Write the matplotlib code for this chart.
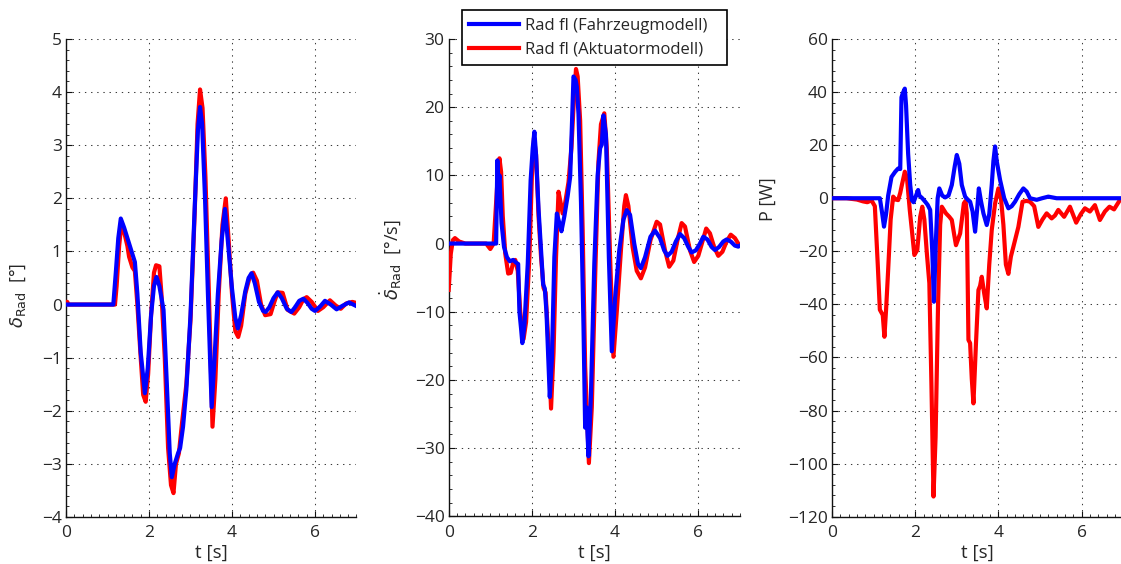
import matplotlib
matplotlib.use("Agg")
import matplotlib.pyplot as plt
from matplotlib.ticker import MultipleLocator
from matplotlib.lines import Line2D

# ---------------- steering angle delta_Rad [deg] ----------------
t_delta_fzg = [0, 1.14, 1.20, 1.26, 1.32, 1.40, 1.50, 1.60, 1.66, 1.72, 1.80, 1.90, 1.97,
               2.05, 2.12, 2.18, 2.25, 2.35, 2.43, 2.50, 2.55, 2.62, 2.70, 2.75, 2.82, 2.90,
               3.00, 3.10, 3.18, 3.23, 3.28, 3.35, 3.42, 3.51, 3.58, 3.66, 3.75, 3.83, 3.90,
               4.00, 4.08, 4.14, 4.22, 4.32, 4.40, 4.47, 4.55, 4.65, 4.75, 4.81, 4.90, 5.00,
               5.10, 5.20, 5.32, 5.43, 5.52, 5.62, 5.72, 5.82, 5.92, 6.00, 6.12, 6.24, 6.38,
               6.52, 6.67, 6.82, 7.0]
delta_fzg = [0, 0, 0.6, 1.25, 1.62, 1.45, 1.2, 0.95, 0.8, 0.2, -0.9, -1.67, -1.2,
             -0.2, 0.35, 0.52, 0.35, -0.1, -1.5, -2.8, -3.25, -3.0, -2.8, -2.7, -2.3, -1.6,
             -0.2, 1.8, 3.3, 3.72, 3.4, 2.0, 0.2, -1.93, -1.0, 0.2, 1.2, 1.8, 1.2,
             0.3, -0.25, -0.45, -0.2, 0.25, 0.5, 0.59, 0.4, 0.05, -0.12, -0.14, -0.05, 0.12,
             0.23, 0.12, -0.08, -0.14, -0.05, 0.07, 0.11, 0.03, -0.08, -0.12, -0.04, 0.07, 0.0,
             -0.09, -0.02, 0.04, -0.03]

t_delta_akt = [0, 0.03, 0.06, 1.18, 1.22, 1.28, 1.34, 1.42, 1.48, 1.52, 1.60, 1.66, 1.72,
               1.80, 1.86, 1.92, 1.98, 2.05, 2.12, 2.17, 2.25, 2.30, 2.38, 2.46, 2.53, 2.59,
               2.65, 2.72, 2.80, 2.90, 3.00, 3.10, 3.17, 3.23, 3.29, 3.36, 3.44, 3.53, 3.60,
               3.68, 3.77, 3.85, 3.92, 4.00, 4.08, 4.15, 4.22, 4.32, 4.42, 4.51, 4.60, 4.70,
               4.80, 4.93, 5.02, 5.10, 5.22, 5.34, 5.50, 5.62, 5.72, 5.80, 5.92, 6.07, 6.20,
               6.36, 6.50, 6.62, 6.75, 6.90, 7.0]
delta_akt = [0.05, 0.05, 0, 0, 0.35, 1.1, 1.55, 1.3, 1.1, 0.9, 0.7, 0.63, 0.0,
             -1.0, -1.7, -1.83, -1.3, -0.2, 0.6, 0.74, 0.72, 0.2, -1.0, -2.7, -3.4, -3.55,
             -3.0, -2.8, -2.2, -1.5, -0.3, 1.7, 3.4, 4.05, 3.7, 2.4, 0.3, -2.3, -1.4,
             0.2, 1.5, 2.0, 1.2, 0.2, -0.5, -0.61, -0.4, 0.2, 0.5, 0.6, 0.45, 0.0,
             -0.2, -0.18, 0.05, 0.23, 0.22, -0.1, -0.17, -0.05, 0.1, 0.14, 0.05, -0.12, -0.05,
             0.08, -0.02, -0.08, 0.02, 0.05, 0.03]

# ---------------- steering rate d(delta_Rad)/dt [deg/s] ----------------
t_rate_fzg = [0, 1.14, 1.17, 1.19, 1.22, 1.27, 1.33, 1.40, 1.47, 1.55, 1.62, 1.67, 1.70,
              1.74, 1.77, 1.82, 1.90, 1.97, 2.02, 2.06, 2.10, 2.16, 2.22, 2.27, 2.31, 2.35,
              2.43, 2.48, 2.54, 2.60, 2.66, 2.71, 2.78, 2.86, 2.92, 2.96, 3.00, 3.05, 3.08,
              3.12, 3.18, 3.24, 3.28, 3.31, 3.36, 3.42, 3.50, 3.58, 3.64, 3.68, 3.72, 3.78,
              3.85, 3.92, 4.00, 4.10, 4.20, 4.28, 4.36, 4.46, 4.55, 4.62, 4.72, 4.85, 4.96,
              5.08, 5.18, 5.26, 5.36, 5.46, 5.56, 5.66, 5.76, 5.84, 5.94, 6.04, 6.12, 6.22,
              6.32, 6.40, 6.50, 6.60, 6.68, 6.78, 6.88, 6.96, 7.0]
rate_fzg = [0, 0, 12.2, 8.0, 10.0, 3.0, -0.5, -2.0, -2.6, -2.4, -2.8, -3.0, -10,
            -12.5, -14.6, -12.0, -3.0, 9.3, 14.0, 16.4, 13.0, 5.0, -1.0, -6.0, -6.6, -10,
            -22.5, -17, -2.0, 4.4, 3.0, 1.8, 4.0, 7.0, 9.8, 17.0, 24.5, 24.0, 23.0,
            19.0, 6.0, -12.0, -27, -24, -31.2, -22, -3.0, 10.0, 14.0, 14.5, 18.8, 16,
            -2.0, -15.8, -8.0, -1.0, 3.5, 4.9, 4.2, 0.0, -3.0, -3.6, -2.0, 1.0, 1.9,
            0.8, -1.0, -1.8, -1.2, 0.3, 1.4, 0.8, -0.5, -1.3, -1.0, 0.0, 1.0, 0.6,
            -0.5, -0.95, -0.5, 0.3, 0.6, 0.3, -0.3, -0.45, -0.3]

t_rate_akt = [0, 0.05, 0.10, 0.15, 0.25, 0.40, 0.90, 1.00, 1.08, 1.14, 1.19, 1.22, 1.26,
              1.30, 1.36, 1.43, 1.49, 1.55, 1.60, 1.66, 1.72, 1.80, 1.86, 1.94, 2.00, 2.05,
              2.10, 2.16, 2.22, 2.28, 2.33, 2.40, 2.46, 2.52, 2.58, 2.64, 2.69, 2.74, 2.80,
              2.88, 2.95, 3.00, 3.06, 3.10, 3.16, 3.22, 3.28, 3.37, 3.44, 3.52, 3.60, 3.66,
              3.74, 3.80, 3.88, 3.96, 4.04, 4.14, 4.22, 4.26, 4.32, 4.42, 4.52, 4.62, 4.72,
              4.85, 5.00, 5.08, 5.20, 5.30, 5.40, 5.50, 5.60, 5.68, 5.80, 5.90, 6.00, 6.10,
              6.19, 6.28, 6.38, 6.48, 6.58, 6.68, 6.78, 6.88, 6.96, 7.0]
rate_akt = [-6.8, -1.5, 0.5, 0.8, 0.3, 0, 0, -0.8, 0, 6.0, 11.0, 12.5, 10.5,
            4.0, -1.5, -4.4, -4.3, -2.8, -2.4, -4.0, -10, -14.0, -11.5, -2.0, 10.0, 15.5,
            13.0, 4.0, -2.0, -6.5, -7.2, -15, -24.2, -16, -2.0, 7.6, 6.0, 4.4, 6.0,
            9.0, 14.0, 20.0, 25.6, 24.5, 18.0, 2.0, -18, -32.2, -24, -5, 12.0, 17.5,
            19.1, 14.0, -2.0, -16.6, -10, -1.0, 5.5, 7.1, 5.5, -0.5, -4.0, -5.1, -3.5,
            0.5, 3.2, 2.8, -1.0, -3.4, -2.5, 0.5, 3.0, 2.5, -1.0, -2.7, -1.8, 0.3,
            2.2, 1.5, -0.5, -1.8, -1.2, 0.3, 1.3, 0.8, 0.0, -0.2]

# ---------------- power P [W] ----------------
t_pow_fzg = [0, 1.15, 1.20, 1.25, 1.30, 1.35, 1.43, 1.52, 1.59, 1.64, 1.67, 1.70, 1.75,
             1.78, 1.83, 1.88, 1.92, 1.96, 2.02, 2.07, 2.10, 2.17, 2.24, 2.30, 2.36, 2.41,
             2.45, 2.50, 2.54, 2.58, 2.65, 2.72, 2.80, 2.88, 2.95, 3.00, 3.06, 3.12, 3.20,
             3.26, 3.32, 3.38, 3.44, 3.49, 3.53, 3.58, 3.64, 3.72, 3.78, 3.84, 3.88, 3.92,
             3.96, 4.04, 4.14, 4.24, 4.32, 4.40, 4.50, 4.60, 4.68, 4.76, 4.92, 5.05, 5.20,
             5.40, 7.0]
pow_fzg = [0, 0, -5, -10.7, -6, 1.0, 8.0, 10.0, 11.2, 11.0, 38, 39.5, 41.3,
           35, 16.8, 5, -0.7, -1.5, 1.0, 3.1, 1.0, 0, -1.3, -2.5, -4.4, -20,
           -39.0, -15, 0, 3.7, 1.0, 0.3, 1.0, 5.0, 12, 16.3, 13, 5, 0.6,
           -0.5, -1.3, -5, -12.6, -4, 3.7, -1, -5.7, -10.1, -6, 5, 14, 19.5,
           14, 6.9, 0, -3.8, -3.0, -1.3, 1.5, 3.7, 2.5, 0.0, -0.6, 0.0, 0.6,
           0.0, 0.0]

t_pow_akt = [0, 0.35, 0.60, 0.75, 0.85, 0.95, 1.03, 1.10, 1.15, 1.22, 1.26, 1.30, 1.35,
             1.41, 1.47, 1.53, 1.59, 1.64, 1.68, 1.75, 1.80, 1.87, 1.92, 1.98, 2.05, 2.12,
             2.17, 2.22, 2.28, 2.34, 2.39, 2.44, 2.49, 2.55, 2.60, 2.64, 2.74, 2.82, 2.88,
             2.94, 2.98, 3.08, 3.13, 3.17, 3.21, 3.24, 3.28, 3.32, 3.36, 3.40, 3.46, 3.52,
             3.56, 3.60, 3.66, 3.72, 3.78, 3.84, 3.92, 4.00, 4.05, 4.12, 4.18, 4.24, 4.30,
             4.36, 4.48, 4.58, 4.68, 4.76, 4.86, 4.96, 5.06, 5.16, 5.28, 5.36, 5.44, 5.58,
             5.72, 5.87, 5.98, 6.08, 6.20, 6.32, 6.44, 6.56, 6.67, 6.78, 6.92, 7.0]
pow_akt = [0, 0, -0.5, -1.2, -1.5, -0.8, -3, -25, -42, -44, -52.2, -42, -27,
           -8, 0.6, -0.5, -0.7, 2, 5.0, 10.0, 8, -4.5, -12, -21.4, -19.5, -7,
           -3.2, -8, -20.7, -32, -70, -112.4, -90, -39.5, -10, -3.2, -5.7, -7, -8.2,
           -14, -17.7, -13.3, -7, -1.9, -1.0, -5.7, -53.4, -54.6, -68, -77.3, -55, -34.6,
           -33, -29.6, -36, -41.5, -25, -12, -2, 3.7, 2, -10, -25, -28.5, -22,
           -18.3, -10.8, -1.3, -1.0, -1.3, -3, -10.8, -8, -5.7, -7.6, -6.5, -4.4, -7,
           -3.2, -9.2, -6, -3.8, -5, -2.6, -8.2, -5, -3.2, -4.2, -0.7, 0]

series_labels = ["Rad fl (Fahrzeugmodell)", "Rad fl (Aktuatormodell)"]
x_ticks = [0, 2, 4, 6]

plt.rcParams["font.family"] = ["Open Sans", "DejaVu Sans"]
plt.rcParams["mathtext.fontset"] = "dejavusans"

TXT = "#262626"
BLUE = "#0000ff"
RED = "#ff0000"
W, H = 1121, 564

fig = plt.figure(figsize=(W / 100, H / 100), dpi=100)


def make_axes(x0, y_top, y_bot, x_end):
    return fig.add_axes([x0 / W, 1 - y_bot / H, (x_end - x0) / W, (y_bot - y_top) / H])


panels = [
    dict(ax=make_axes(66, 39, 517, 356.5),
         fzg=(t_delta_fzg, delta_fzg), akt=(t_delta_akt, delta_akt),
         ylim=(-4, 5), ystep=1, yminor=0.2,
         ylabel=r"$\delta_{\mathrm{Rad}}$  [°]", lab=(-0.131, 0.464)),
    dict(ax=make_axes(448.7, 39, 516.3, 739.9),
         fzg=(t_rate_fzg, rate_fzg), akt=(t_rate_akt, rate_akt),
         ylim=(-40, 30), ystep=10, yminor=2,
         ylabel=r"$\dot{\delta}_{\mathrm{Rad}}$  [°/s]", lab=(-0.157, 0.537)),
    dict(ax=make_axes(832, 39, 516.7, 1123.2),
         fzg=(t_pow_fzg, pow_fzg), akt=(t_pow_akt, pow_akt),
         ylim=(-120, 60), ystep=20, yminor=4,
         ylabel="P [W]", lab=(-0.189, 0.664)),
]

for p in panels:
    ax = p["ax"]
    ax.plot(*p["akt"], color=RED, lw=3.0, solid_joinstyle="round", zorder=3)
    ax.plot(*p["fzg"], color=BLUE, lw=3.0, solid_joinstyle="round", zorder=4)
    ax.set_xlim(0, 7)
    ax.set_ylim(*p["ylim"])
    ax.set_xticks(x_ticks)
    ax.yaxis.set_major_locator(MultipleLocator(p["ystep"]))
    ax.xaxis.set_minor_locator(MultipleLocator(0.2))
    ax.yaxis.set_minor_locator(MultipleLocator(p["yminor"]))
    ax.grid(True, which="major", color="#3a3a3a", lw=0.75,
            linestyle=(0, (1.3, 4.6)))
    ax.set_axisbelow(True)
    for s in ("top", "right"):
        ax.spines[s].set_visible(False)
    for s in ("left", "bottom"):
        ax.spines[s].set_linewidth(1.0)
        ax.spines[s].set_color("#111111")
    ax.tick_params(which="major", direction="in", length=4, width=0.8,
                   labelsize=12.5, colors="#111111", labelcolor=TXT)
    ax.tick_params(axis="x", which="major", pad=6)
    ax.tick_params(axis="y", which="major", pad=3)
    ax.tick_params(which="minor", direction="in", length=2, width=0.6, colors="#111111")
    ax.set_xlabel("t [s]", fontsize=13.5, color=TXT, labelpad=2)
    ax.set_ylabel(p["ylabel"], fontsize=13, color=TXT)
    ax.yaxis.set_label_coords(*p["lab"])
    ax.patch.set_alpha(0)

# legend box spans a fixed region above the middle panel
handles = [Line2D([], [], color=BLUE, lw=3.0), Line2D([], [], color=RED, lw=3.0)]
leg = fig.legend(handles, series_labels, loc="upper left",
                 bbox_to_anchor=(461.7 / W, 1 - 64 / H, 265.6 / W, 54 / H),
                 mode="expand", borderaxespad=0,
                 fontsize=12, handlelength=3.0, handletextpad=0.35,
                 labelspacing=0.5, borderpad=0.45, frameon=True, fancybox=False,
                 edgecolor="black", framealpha=1)
leg.get_frame().set_linewidth(1.2)
for txt in leg.get_texts():
    txt.set_color(TXT)

fig.savefig("out.png", dpi=100)
